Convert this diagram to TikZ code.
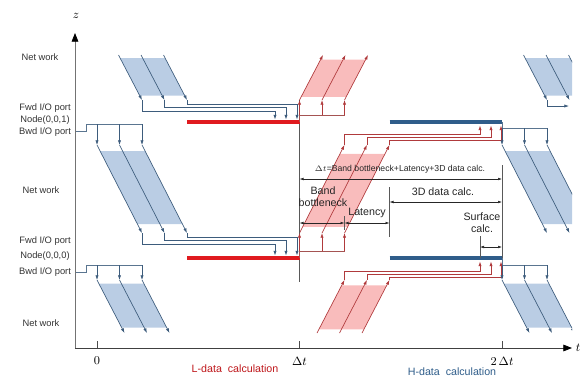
\documentclass[tikz,border=0pt]{standalone}
\usepackage{fontspec}
\setmainfont{Liberation Sans}
\usetikzlibrary{arrows.meta,positioning,calc}
\definecolor{netblue}{HTML}{BACDE4}
\definecolor{pktblue}{HTML}{3D5C7C}
\definecolor{hdatablue}{HTML}{2F5D8A}
\definecolor{ldatared}{HTML}{E01A1F}
\definecolor{netred}{HTML}{F9BCBC}
\definecolor{pktred}{HTML}{B03A3C}
\definecolor{linkred}{HTML}{A55452}

% one network band: fill, arrow style, x start, y start, dx, y end
\newcommand{\pktband}[6]{%
  \fill[#1] ($(#3,#4)!0.07!(#3+#5,#6)$) -- ($(#3+45,#4)!0.07!(#3+45+#5,#6)$)
    -- ($(#3+45,#4)!0.9!(#3+45+#5,#6)$) -- ($(#3,#4)!0.9!(#3+#5,#6)$) -- cycle;
  \foreach \k in {0,22.5,45} \draw[#2] (#3+\k,#4) -- (#3+\k+#5,#6);
}

\begin{document}
\begin{tikzpicture}[x=0.75pt,y=-0.75pt,
  lbl/.style={font=\fontsize{7}{8}\selectfont, text=black!80},
  note/.style={font=\fontsize{8}{9}\selectfont, text=black!85, align=center, inner sep=1pt},
  axisarr/.style={black!55, line width=0.6pt, -{Triangle[length=6.5pt,width=5pt,color=black]}},
  dimarr/.style={black!85, line width=0.4pt, {Latex[length=3pt,width=2pt]}-{Latex[length=3pt,width=2pt]}},
  markline/.style={black!65, line width=0.5pt},
  dnpkt/.style={pktblue, line width=0.5pt, -{Latex[length=3.5pt,width=2.4pt]}},
  uppkt/.style={pktred, line width=0.5pt, -{Latex[length=3.5pt,width=2.4pt]}},
  dnlink/.style={pktblue!85, line width=0.5pt},
  uplink/.style={linkred, line width=0.5pt},
  lbar/.style={ldatared, line width=3.6pt},
  hbar/.style={hdatablue, line width=3.4pt}
]
\useasboundingbox (0,0) rectangle (583,380);

% axes
\coordinate (orig) at (75,348);
\draw[axisarr] (orig) -- (75,33);
\draw[axisarr, black!75] (orig) -- (572,348);
\node[font=\small] (zlab) at (76,16) {$z$};
\node[font=\small] (tlab) at (578,348) {$t$};
\foreach \x/\t [count=\i] in {97/0, 299.5/\Delta t, 502/2\,\Delta t} {
  \draw[black!70] (\x,348) -- (\x,341);
  \node[font=\small] (tick\i) at (\x,361) {$\t$};
}
\node[font=\fontsize{8}{9}\selectfont, text=ldatared!85!black] (lcalc) at (235,369) {L-data\ \ calculation};
\node[font=\fontsize{8}{9}\selectfont, text=hdatablue] (hcalc) at (452,372) {H-data\ \ calculation};

% row labels
\node[lbl] (net2) at (40,57) {Net work};
\node[lbl] (fwd1) at (45,108) {Fwd I/O port};
\node[lbl] (node1) at (45,120) {Node(0,0,1)};
\node[lbl] (bwd1) at (45,132) {Bwd I/O port};
\node[lbl] (net1) at (41,190) {Net work};
\node[lbl] (fwd0) at (45,241) {Fwd I/O port};
\node[lbl] (node0) at (45,256) {Node(0,0,0)};
\node[lbl] (bwd0) at (45,272) {Bwd I/O port};
\node[lbl] (net0) at (41,323) {Net work};

% network bands
\pktband{netblue}{dnpkt}{118.5}{55}{23.5}{100}
\pktband{netred}{uppkt}{299.5}{100}{23.5}{55}
\pktband{netblue}{dnpkt}{97}{145}{45}{233}
\pktband{netred}{uppkt}{299.5}{233}{45}{145}
\pktband{netblue}{dnpkt}{97}{280}{27.5}{333}
\pktband{netred}{uppkt}{317}{333}{27.5}{280}
\begin{scope}
  \clip (0,0) rectangle (572,380);
  \pktband{netblue}{dnpkt}{523.5}{55}{23.5}{100}
  \pktband{netblue}{dnpkt}{502}{145}{45}{233}
  \pktband{netblue}{dnpkt}{502}{280}{27.5}{333}
\end{scope}
\draw[dnpkt] (547,100) |- (569,106);

% time markers
\draw[markline] (299.5,100) -- (299.5,282);
\draw[markline] (502,165) -- (502,278);

% node (0,0,1)
\draw[lbar] (187,122) -- (299.5,122);
\draw[hbar] (389.5,122) -- (502,122);
\foreach \a/\y/\b in {142/111/275, 164.5/107.5/286, 187/104/297}
  \draw[dnpkt] (\a,100) |- (\b,\y) -- (\b,119.5);
\draw[uplink] (299.5,122) -- (299.5,115) -- (344.5,115);
\foreach \x in {299.5,322,344.5} \draw[uppkt] (\x,115) -- (\x,100);
\draw[dnlink] (76,131) -| (86,124) -- (142,124);
\foreach \x in {97,119.5,142} \draw[dnpkt] (\x,124) -- (\x,145);
\foreach \a/\y/\b in {344.5/134/480, 367/137/491, 389.5/140/501}
  \draw[uppkt] (\a,145) |- (\b,\y) -- (\b,125.5);
\draw[dnlink] (502,122) -- (502,128) -- (547,128);
\foreach \x in {502,524.5,547} \draw[dnpkt] (\x,128) -- (\x,145);

% node (0,0,0)
\draw[lbar] (187,258) -- (299.5,258);
\draw[hbar] (389.5,258) -- (502,258);
\foreach \a/\y/\b in {142/244/275, 164.5/240.5/286, 187/237/297}
  \draw[dnpkt] (\a,233) |- (\b,\y) -- (\b,255.5);
\draw[uplink] (299.5,258) -- (299.5,251) -- (344.5,251);
\foreach \x in {299.5,322,344.5} \draw[uppkt] (\x,251) -- (\x,233);
\draw[dnlink] (76,272) -| (86,265) -- (142,265);
\foreach \x in {97,119.5,142} \draw[dnpkt] (\x,265) -- (\x,280);
\foreach \a/\y/\b in {344.5/271/480, 367/274/491, 389.5/277/501}
  \draw[uppkt] (\a,280) |- (\b,\y) -- (\b,261.5);
\draw[dnlink] (502,258) -- (502,265) -- (547,265);
\foreach \x in {502,524.5,547} \draw[dnpkt] (\x,265) -- (\x,280);

% breakdown of one step
\coordinate (s0) at (299.5,179);
\coordinate (s3) at (502,179);
\draw[dimarr] (s0) -- (s3);
\node[note, font=\fontsize{6.5}{7.5}\selectfont] (total) at (400,169) {$\Delta t$=Band bottleneck+Latency+3D data calc.};
\draw[markline] (344.5,216) -- (344.5,230);
\draw[markline] (389.5,187) -- (389.5,237);
\draw[dimarr] (299.5,223) -- (344.5,223);
\draw[dimarr] (344.5,223) -- (389.5,223);
\draw[dimarr] (389.5,202) -- (502,202);
\node[note] (band) at (323,197) {Band\\bottleneck};
\node[note] (lat) at (367,213) {Latency};
\node[note] (calc3d) at (443,192) {3D data calc.};
\draw[markline] (480,236) -- (480,258);
\draw[dimarr] (480,247) -- (502,247);
\node[note] (surf) at (482,223) {Surface\\calc.};
\end{tikzpicture}
\end{document}
